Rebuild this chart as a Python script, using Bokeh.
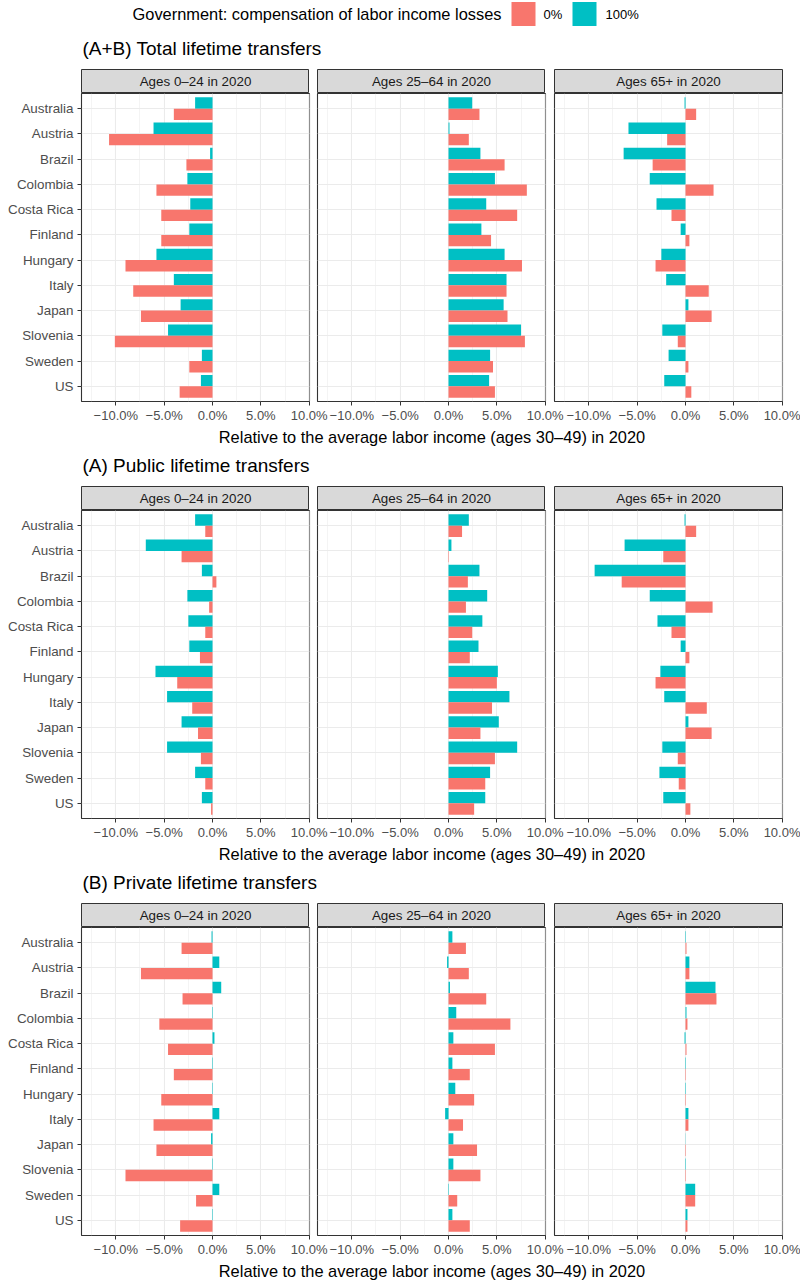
from bokeh.plotting import figure
from bokeh.layouts import column, row
from bokeh.models import Range1d, FactorRange, FixedTicker, ColumnDataSource
from bokeh.transform import dodge
from bokeh.core.properties import value
from bokeh.embed import file_html
from bokeh.resources import INLINE

# ---------------- data ----------------
countries = ["Australia", "Austria", "Brazil", "Colombia", "Costa Rica", "Finland",
             "Hungary", "Italy", "Japan", "Slovenia", "Sweden", "US"]
age_groups = ["Ages 0\u201324 in 2020", "Ages 25\u201364 in 2020", "Ages 65+ in 2020"]
section_titles = ["(A+B) Total lifetime transfers", "(A) Public lifetime transfers",
                  "(B) Private lifetime transfers"]
legend_title = "Government: compensation of labor income losses"
series_labels = ["0%", "100%"]
series_colors = ["#F8766D", "#00BFC4"]
x_axis_title = "Relative to the average labor income (ages 30\u201349) in 2020"
x_ticks = [-10, -5, 0, 5, 10]
x_tick_labels = ["\u221210.0%", "\u22125.0%", "0.0%", "5.0%", "10.0%"]
x_minor_ticks = [-12.5, -7.5, -2.5, 2.5, 7.5]

# (A+B) Total
total_0_24_comp0 = [-4.0, -10.7, -2.7, -5.8, -5.3, -5.3, -9.0, -8.2, -7.4, -10.1, -2.4, -3.4]
total_0_24_comp100 = [-1.8, -6.1, -0.25, -2.6, -2.3, -2.4, -5.8, -4.0, -3.3, -4.6, -1.1, -1.2]
total_25_64_comp0 = [3.2, 2.1, 5.8, 8.1, 7.1, 4.4, 7.6, 6.0, 6.1, 7.9, 4.6, 4.8]
total_25_64_comp100 = [2.45, 0.1, 3.3, 4.8, 3.9, 3.4, 5.8, 6.0, 5.7, 7.5, 4.3, 4.2]
total_65_comp0 = [1.1, -1.9, -3.4, 2.9, -1.45, 0.4, -3.1, 2.4, 2.7, -0.8, 0.3, 0.6]
total_65_comp100 = [-0.1, -5.9, -6.4, -3.7, -3.0, -0.5, -2.5, -2.0, 0.3, -2.4, -1.75, -2.2]

# (A) Public
public_0_24_comp0 = [-0.75, -3.2, 0.4, -0.35, -0.75, -1.3, -3.65, -2.1, -1.5, -1.2, -0.75, -0.15]
public_0_24_comp100 = [-1.8, -6.9, -1.1, -2.6, -2.5, -2.4, -5.9, -4.7, -3.2, -4.7, -1.8, -1.1]
public_25_64_comp0 = [1.4, 0.05, 2.0, 1.8, 2.45, 2.2, 5.0, 4.5, 3.3, 4.8, 3.8, 2.65]
public_25_64_comp100 = [2.1, 0.3, 3.2, 4.0, 3.5, 3.1, 5.1, 6.3, 5.2, 7.1, 4.3, 3.8]
public_65_comp0 = [1.1, -2.3, -6.6, 2.8, -1.45, 0.4, -3.1, 2.2, 2.7, -0.8, -0.7, 0.5]
public_65_comp100 = [-0.1, -6.3, -9.4, -3.7, -2.9, -0.5, -2.6, -2.2, 0.3, -2.4, -2.7, -2.3]

# (B) Private
private_0_24_comp0 = [-3.2, -7.4, -3.1, -5.5, -4.6, -4.0, -5.3, -6.1, -5.8, -9.0, -1.7, -3.35]
private_0_24_comp100 = [-0.1, 0.7, 0.9, 0.05, 0.2, 0.05, 0.05, 0.7, -0.15, 0.05, 0.7, 0.05]
private_25_64_comp0 = [1.8, 2.1, 3.9, 6.4, 4.8, 2.2, 2.65, 1.5, 2.95, 3.3, 0.9, 2.2]
private_25_64_comp100 = [0.4, -0.15, 0.15, 0.8, 0.5, 0.4, 0.7, -0.35, 0.5, 0.5, 0.05, 0.4]
private_65_comp0 = [0.1, 0.4, 3.2, 0.2, 0.1, 0.05, 0.05, 0.3, 0.05, 0.05, 1.0, 0.2]
private_65_comp100 = [0.05, 0.4, 3.1, 0.1, -0.1, 0.05, 0.05, 0.3, 0.02, 0.05, 1.0, 0.2]

sections = [
    [(total_0_24_comp0, total_0_24_comp100), (total_25_64_comp0, total_25_64_comp100),
     (total_65_comp0, total_65_comp100)],
    [(public_0_24_comp0, public_0_24_comp100), (public_25_64_comp0, public_25_64_comp100),
     (public_65_comp0, public_65_comp100)],
    [(private_0_24_comp0, private_0_24_comp100), (private_25_64_comp0, private_25_64_comp100),
     (private_65_comp0, private_65_comp100)],
]

# ---------------- layout constants ----------------
FONT = value("Liberation Sans")
TOTAL_W = 800
PANEL_W = 228
PANEL_H = 311
BOTTOM = 21
LEFTS = [81, 8, 9]
RIGHTS = [0, 0, 18]
OVER = 22          # extra canvas room to the right of facets 1 and 2 (overlapped)
X_START, X_END = -13.55, 10.03
TITLE_H = [41, 38, 38]
AXTITLE_H = [22, 22, 22]


def base_fig(**kw):
    return figure(output_backend="svg", toolbar_location=None, **kw)


def text_fig(txt, h, x, y, size, align="left", color="black"):
    t = base_fig(width=TOTAL_W, height=h, x_range=Range1d(0, TOTAL_W), y_range=Range1d(0, h),
                 x_axis_type=None, y_axis_type=None, min_border=0, outline_line_color=None)
    t.text(x=[x], y=[y], text=[txt], text_align=align, text_baseline="middle",
           text_font=FONT, text_font_size=size, text_color=color)
    return t


def legend_fig():
    h = 27
    lg = base_fig(width=TOTAL_W, height=h, x_range=Range1d(0, TOTAL_W), y_range=Range1d(0, h),
                  x_axis_type=None, y_axis_type=None, min_border=0, outline_line_color=None)
    yc = h - 13.5
    lg.text(x=[501], y=[yc], text=[legend_title], text_align="right", text_baseline="middle",
            text_font=FONT, text_font_size="16.4px", text_color="black")
    key_x = [523, 584]
    lab_x = [543, 605]
    for kx, lx, lab, col in zip(key_x, lab_x, series_labels, series_colors):
        lg.rect(x=[kx], y=[yc], width=24, height=24, fill_color=col, line_color=None)
        lg.text(x=[lx], y=[yc], text=[lab], text_align="left", text_baseline="middle",
                text_font=FONT, text_font_size="13px", text_color="black")
    return lg


def strip_fig(label, i):
    w = LEFTS[i] + PANEL_W + RIGHTS[i]
    s = base_fig(width=w, height=25, x_range=Range1d(0, 1), y_range=Range1d(0, 1),
                 x_axis_type=None, y_axis_type=None,
                 min_border_left=LEFTS[i], min_border_right=RIGHTS[i],
                 min_border_top=1, min_border_bottom=0,
                 background_fill_color="#d9d9d9", outline_line_color="#333333",
                 outline_line_width=1)
    s.text(x=[0.5], y=[0.5], text=[label], text_align="center", text_baseline="middle",
           text_font=FONT, text_font_size="13.4px", text_color="#1a1a1a")
    return s


def facet_fig(v0, v100, i):
    extra = OVER if i < 2 else 0
    right = RIGHTS[i] + extra
    w = LEFTS[i] + PANEL_W + right
    p = base_fig(width=w, height=PANEL_H + BOTTOM,
                 x_range=Range1d(X_START, X_END),
                 y_range=FactorRange(factors=countries[::-1], range_padding=1 / 60,
                                     range_padding_units="percent"),
                 min_border_left=LEFTS[i], min_border_right=right,
                 min_border_top=0, min_border_bottom=BOTTOM,
                 outline_line_color="#333333", outline_line_width=1.1,
                 background_fill_color="white", border_fill_color=None,
                 margin=(0, -extra, 0, 0))
    src = ColumnDataSource(dict(country=countries, v0=v0, v100=v100))
    p.hbar(y=dodge("country", 0.225, range=p.y_range), left=0, right="v100", height=0.45,
           fill_color=series_colors[1], line_color=None, source=src)
    p.hbar(y=dodge("country", -0.225, range=p.y_range), left=0, right="v0", height=0.45,
           fill_color=series_colors[0], line_color=None, source=src)

    p.xaxis.ticker = FixedTicker(ticks=x_ticks, minor_ticks=x_minor_ticks)
    p.xaxis.major_label_overrides = dict(zip(x_ticks, x_tick_labels))
    p.xaxis.axis_line_color = None
    p.xaxis.major_tick_out = 4
    p.xaxis.major_tick_in = 0
    p.xaxis.major_tick_line_color = "#333333"
    p.xaxis.minor_tick_line_color = None
    p.xaxis.major_label_standoff = 2
    p.xaxis.major_label_text_font = "Liberation Sans"
    p.xaxis.major_label_text_font_size = "13px"
    p.xaxis.major_label_text_color = "#4d4d4d"

    p.xgrid.grid_line_color = "#ebebeb"
    p.xgrid.grid_line_width = 1.1
    p.xgrid.minor_grid_line_color = "#ebebeb"
    p.xgrid.minor_grid_line_width = 0.55
    p.ygrid.grid_line_color = "#ebebeb"
    p.ygrid.grid_line_width = 1.1

    if i == 0:
        p.yaxis.axis_line_color = None
        p.yaxis.major_tick_out = 4
        p.yaxis.major_tick_in = 0
        p.yaxis.major_tick_line_color = "#333333"
        p.yaxis.major_label_standoff = 4
        p.yaxis.major_label_text_font = "Liberation Sans"
        p.yaxis.major_label_text_font_size = "13.4px"
        p.yaxis.major_label_text_color = "#4d4d4d"
    else:
        p.yaxis.visible = False
    return p


children = [legend_fig()]
for s_idx, (title, facets) in enumerate(zip(section_titles, sections)):
    children.append(text_fig(title, TITLE_H[s_idx], 82, 20, "19px"))
    children.append(row(*[strip_fig(age_groups[i], i) for i in range(3)]))
    children.append(row(*[facet_fig(facets[i][0], facets[i][1], i) for i in range(3)]))
    ah = AXTITLE_H[s_idx]
    children.append(text_fig(x_axis_title, ah, 431.5, ah - 11, "16.4px", align="center"))

layout = column(*children)
open("out.html", "w").write(file_html(layout, INLINE))
